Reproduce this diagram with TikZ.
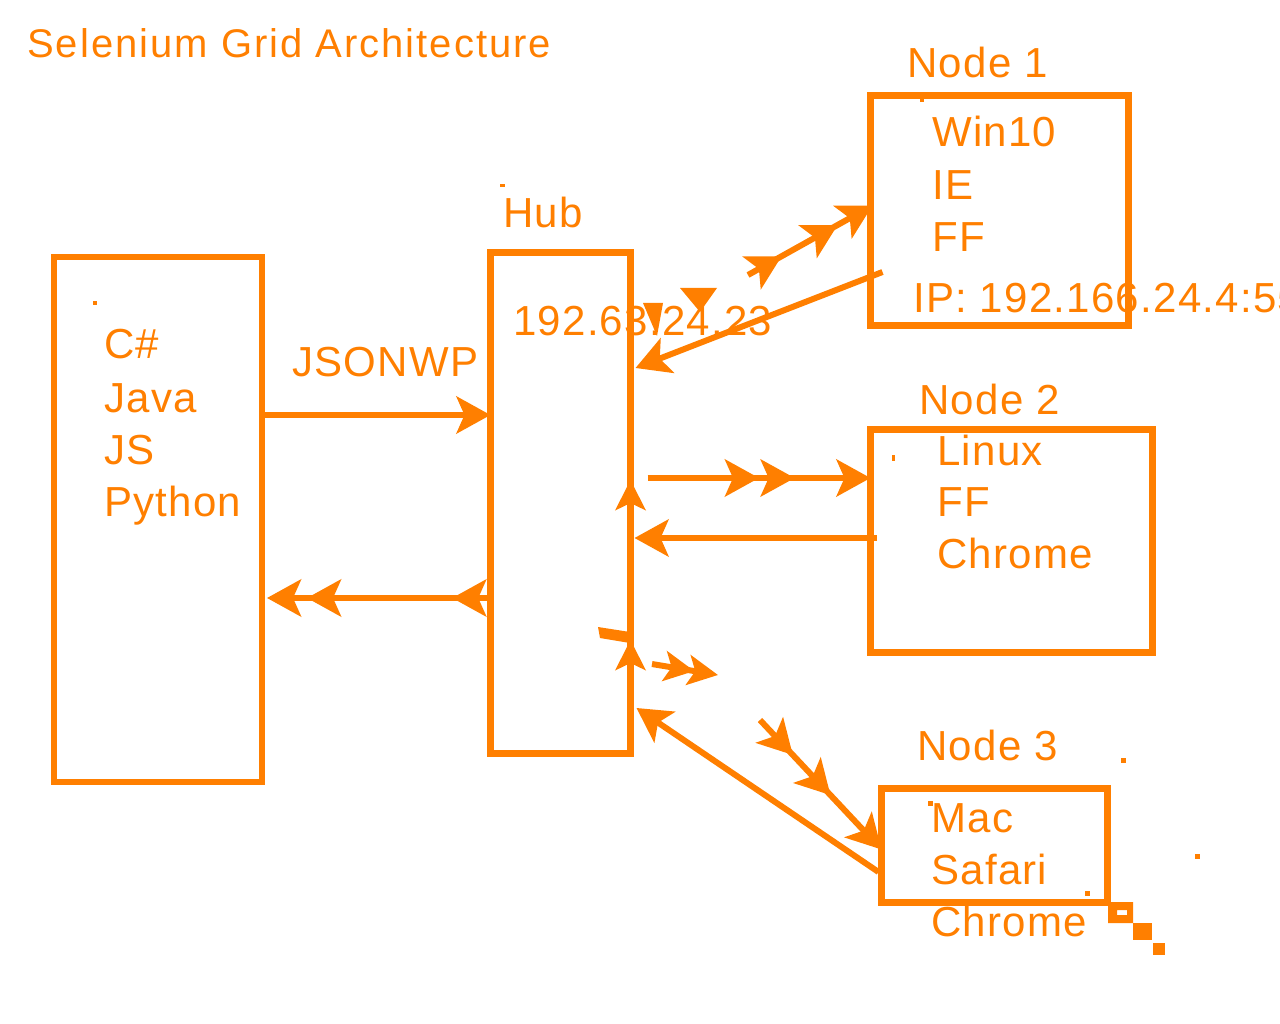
\documentclass[tikz,border=0pt]{standalone}
\usepackage{fontspec}
\setmainfont{Liberation Sans}
\usetikzlibrary{arrows.meta,decorations.markings}
\definecolor{org}{RGB}{255,127,0}
\tikzset{
  Hd/.tip={Stealth[length=34pt,width=37pt,inset=8pt]},
  Hs/.tip={Stealth[length=30pt,width=30pt,inset=7pt]},
}
\begin{document}
\begin{tikzpicture}[x=1pt,y=-1pt,
  box/.style={draw=org,line width=6.5pt,inner sep=0pt,outer sep=0pt},
  lbl/.style={text=org,inner sep=0pt,anchor=base west,font=\fontsize{42}{52}\selectfont\addfontfeature{LetterSpace=3}},
  conn/.style={draw=org,line width=6pt},
  midhd/.style={postaction={decorate,decoration={markings,mark=at position #1 with {\arrow{Hd}}}}},
  stray/.style={fill=org}
]
\useasboundingbox (0,0) rectangle (1280,1024);

% title
\node[lbl,font=\fontsize{40}{48}\selectfont\addfontfeature{LetterSpace=5}] (title) at (27,58) {Selenium Grid Architecture};

% boxes
\node[box,minimum width=208pt,minimum height=525pt] (client) at (158,519.5) {};
\node[box,minimum width=140pt,minimum height=501pt] (hub) at (560.5,503) {};
\node[box,minimum width=258pt,minimum height=230pt] (n1) at (999.5,210.5) {};
\node[box,minimum width=282pt,minimum height=223pt] (n2) at (1011.5,541) {};
\node[box,minimum width=226pt,minimum height=114pt] (n3) at (994.5,845.5) {};

% client texts
\node[lbl] (tcs) at (104,359) {C\#};
\node[lbl] (tjava) at (104,412) {Java};
\node[lbl] (tjs) at (104,464) {JS};
\node[lbl] (tpy) at (104,516) {Python};

% hub texts
\node[lbl] (tjson) at (292,377) {JSONWP};
\node[lbl] (thub) at (503,228) {Hub};
\node[lbl] (thubip) at (513,335) {192.63.24.23};

% node 1
\node[lbl] (tn1) at (907,78) {Node 1};
\node[lbl] (tw10) at (932,147) {Win10};
\node[lbl] (tie) at (932,200) {IE};
\node[lbl] (tff1) at (932,252) {FF};
\node[lbl] (tip1) at (913,313) {IP: 192.166.24.4:55};

% node 2
\node[lbl] (tn2) at (919,414) {Node 2};
\node[lbl] (tlin) at (937,465) {Linux};
\node[lbl] (tff2) at (937,516) {FF};
\node[lbl] (tch2) at (937,568) {Chrome};

% node 3
\node[lbl] (tn3) at (917,760) {Node 3};
\node[lbl] (tmac) at (931,832) {Mac};
\node[lbl] (tsaf) at (931,884) {Safari};
\node[lbl] (tch3) at (931,936) {Chrome};

% free ends
\coordinate (a1) at (748,275);
\coordinate (a3) at (760,720);
\coordinate (b1) at (652,664);
\coordinate (b2) at (718,675);

% client -> hub
\draw[conn,-Hd] ([yshift=104.5pt]client.east) -- ([yshift=88pt]hub.west);
% hub -> client
\draw[conn,-{Hd[sep=6pt]Hd},midhd=0.16] ([xshift=-3pt,yshift=-95pt]hub.west) -- ([xshift=5pt,yshift=-78.5pt]client.east);

% hub -> node 1
\draw[conn,-Hd,midhd=0.27,midhd=0.72] (a1) -- ([xshift=2pt,yshift=5pt]n1.west);
% node 1 -> hub
\draw[conn,-Hd] ([xshift=12pt,yshift=-61.5pt]n1.west) -- ([xshift=5pt,yshift=135pt]hub.east);
\fill[stray] (680,288) -- (717,288) -- (700,312) -- cycle;
\fill[stray] (643,303) -- (663,303) -- (657,336) -- cycle;

% hub -> node 2
\draw[conn,-Hd,midhd=0.5,midhd=0.66] ([xshift=17pt,yshift=25pt]hub.east) -- ([yshift=63pt]n2.west);
% node 2 -> hub
\draw[conn,-Hd] ([xshift=6pt,yshift=3pt]n2.west) -- ([xshift=4pt,yshift=-35pt]hub.east);
% stray up heads on hub edge
\draw[conn,-Hs] ([yshift=-15pt]hub.east) -- ([yshift=23pt]hub.east);
\draw[conn,-Hs] ([yshift=-180pt]hub.east) -- ([yshift=-137pt]hub.east);
\fill[stray] (598,627) -- (630,632) -- (630,643) -- (600,638) -- cycle;
\draw[conn,-{Hs[sep=-6pt]Hs}] (b1) -- (b2);

% hub -> node 3
\draw[conn,-Hd,midhd=0.27,midhd=0.58] (a3) -- ([yshift=-4pt]n3.west);
% node 3 -> hub
\draw[conn,-Hd] ([xshift=-3pt,yshift=-26.5pt]n3.west) -- ([xshift=6pt,yshift=-205pt]hub.east);

% stray marks
\fill[stray] (93,301) rectangle ++(4,4);
\fill[stray] (500,184) rectangle ++(5,3);
\fill[stray] (920,97) rectangle ++(4,5);
\fill[stray] (892,455) rectangle ++(3,6);
\fill[stray] (928,801) rectangle ++(5,5);
\fill[stray] (1121,758) rectangle ++(5,5);
\fill[stray] (1195,854) rectangle ++(5,5);
\fill[stray] (1085,891) rectangle ++(5,5);
\fill[stray,even odd rule] (1108,902) rectangle (1133,923) (1117,910) rectangle (1127,915);
\fill[stray] (1133,923) rectangle (1152,940);
\fill[stray] (1153,943) rectangle (1165,955);
\end{tikzpicture}
\end{document}
